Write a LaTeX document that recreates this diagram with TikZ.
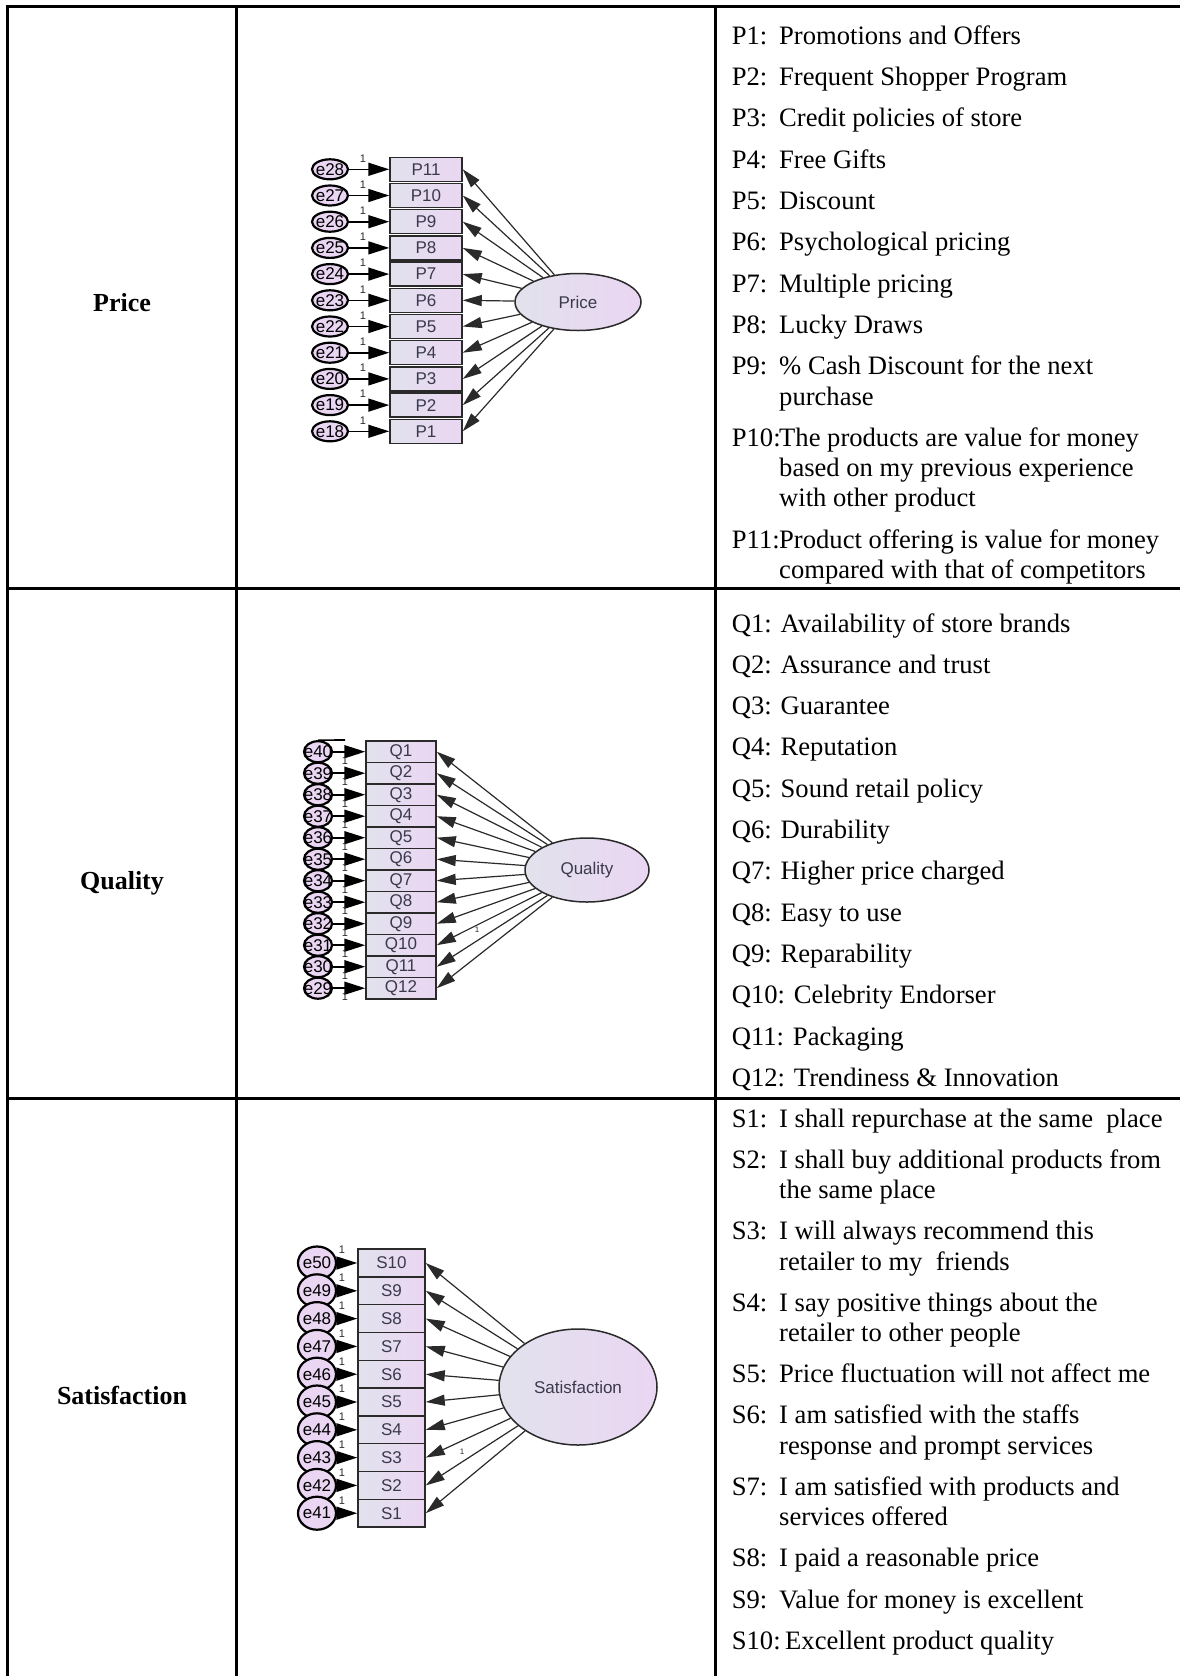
\documentclass[tikz,border=0pt]{standalone}
\usepackage{fontspec}
\setmainfont{Liberation Serif}
\newfontfamily\diagfont{Liberation Sans}
\usetikzlibrary{arrows.meta,shapes.geometric}
\definecolor{boxL}{HTML}{E2E2EC}
\definecolor{boxR}{HTML}{EAD6F3}
\definecolor{inkgray}{HTML}{2A2A2A}
\definecolor{boxtxt}{HTML}{3A3A4C}
\tikzset{
  rule/.style={line width=3pt, black},
  itemlbl/.style={anchor=base west, inner sep=0pt, font=\fontsize{26.6}{30}\selectfont},
  rowlbl/.style={inner sep=0pt, font=\fontsize{26}{30}\selectfont\bfseries},
  obsbox/.style={draw=inkgray, line width=1.5pt, rectangle, inner sep=0pt,
    left color=boxL, right color=boxR, text=boxtxt,
    font=\diagfont\fontsize{17}{17}\selectfont},
  errc/.style={draw=black, line width=2.2pt, ellipse, inner sep=0pt, fill=boxR},
  errtxt/.style={inner sep=0pt, text=black, font=\diagfont\fontsize{17}{17}\selectfont},
  latent/.style={draw=inkgray, line width=1.5pt, ellipse, inner sep=0pt,
    left color=boxL, right color=boxR, text=boxtxt,
    font=\diagfont\fontsize{17}{17}\selectfont},
  errarrow/.style={-{Triangle[length=21pt,width=13pt]}, line width=1.6pt, black},
  loadarrow/.style={-{Triangle[length=19pt,width=11pt]}, line width=1.2pt, inkgray},
  onelbl/.style={inner sep=0pt, text=inkgray, font=\diagfont\fontsize{11}{11}\selectfont},
}
\begin{document}
\begin{tikzpicture}[x=1pt,y=-1pt]
\useasboundingbox (0,0) rectangle (1180,1676);

% ---------- table rules ----------
\draw[rule] (7,1676) -- (7,6) -- (1180,6);
\draw[rule] (236,6) -- (236,1676);
\draw[rule] (715,6) -- (715,1676);
\draw[rule] (7,588) -- (1180,588);
\draw[rule] (7,1098) -- (1180,1098);

% ---------- row headings ----------
\node[rowlbl] (hPrice) at (122,303) {Price};
\node[rowlbl] (hQuality) at (122,883) {Quality};
\node[rowlbl] (hSat) at (122,1395) {Satisfaction};

% ---------- Price model ----------
\node[latent, minimum width=126pt, minimum height=57pt] (Price) at (578,302) {Price};
\foreach \n [count=\k from 0] in {11,10,...,1} {
  \pgfmathsetmacro\yy{169.3+26.2*\k}
  \pgfmathtruncatemacro\ee{\n+17}
  \node[obsbox, minimum width=72pt, minimum height=24pt] (P\n) at (426,\yy) {P\n};
  \node[errc, minimum width=36pt, minimum height=20pt] (eP\n) at (330,\yy) {};
  \node[errtxt] (tP\n) at (eP\n) {e\ee};
  \draw[errarrow] (eP\n) -- (P\n);
  \node[onelbl] (oP\n) at (363,\yy-11) {1};
  \draw[loadarrow] (Price) -- (P\n.east);
}

% ---------- Quality model ----------
\node[latent, minimum width=124pt, minimum height=64pt] (Quality) at (587,870) {Quality};
\foreach \n [count=\k from 0] in {1,2,...,12} {
  \pgfmathsetmacro\yy{751.7+21.5*\k}
  \pgfmathtruncatemacro\ee{41-\n}
  \node[obsbox, minimum width=70pt, minimum height=21.5pt] (Q\n) at (401,\yy) {Q\n};
  \node[errc, minimum width=28pt, minimum height=21pt] (eQ\n) at (318,\yy) {};
  \node[errtxt] (tQ\n) at (eQ\n) {e\ee};
  \draw[errarrow] (eQ\n) -- (Q\n);
  \node[onelbl] (oQ\n) at (345,\yy+9) {1};
  \draw[loadarrow] (Quality) -- (Q\n.east);
}
\coordinate (topstub) at (345,740);
\draw[line width=1.6pt, black] (eQ1.north) -- (topstub);
\node[onelbl, font=\diagfont\fontsize{8}{8}\selectfont] (oQx) at (477,930) {1};

% ---------- Satisfaction model ----------
\node[latent, minimum width=158pt, minimum height=116pt] (Sat) at (578,1387) {Satisfaction};
\foreach \n [count=\k from 0] in {10,9,...,1} {
  \pgfmathsetmacro\yy{1263+27.8*\k}
  \pgfmathtruncatemacro\ee{\n+40}
  \node[obsbox, minimum width=67pt, minimum height=27.8pt] (S\n) at (391.5,\yy) {S\n};
  \node[errc, minimum width=38pt, minimum height=33pt] (eS\n) at (317,\yy) {};
  \node[errtxt] (tS\n) at (eS\n) {e\ee};
  \draw[errarrow] (eS\n) -- (S\n);
  \node[onelbl] (oS\n) at (342,\yy-13) {1};
  \draw[loadarrow] (Sat) -- (S\n.east);
}
\node[onelbl, font=\diagfont\fontsize{8}{8}\selectfont] (oSx) at (462,1452) {1};

% ---------- Price items ----------
\node[itemlbl] (p1a) at (731.7,44.3) {P1:};
\node[itemlbl] (p1b) at (779,44.3) {Promotions and Offers};
\node[itemlbl] (p2a) at (731.7,85.6) {P2:};
\node[itemlbl] (p2b) at (779,85.6) {Frequent Shopper Program};
\node[itemlbl] (p3a) at (731.7,126.9) {P3:};
\node[itemlbl] (p3b) at (779,126.9) {Credit policies of store};
\node[itemlbl] (p4a) at (731.7,168.2) {P4:};
\node[itemlbl] (p4b) at (779,168.2) {Free Gifts};
\node[itemlbl] (p5a) at (731.7,209.5) {P5:};
\node[itemlbl] (p5b) at (779,209.5) {Discount};
\node[itemlbl] (p6a) at (731.7,250.8) {P6:};
\node[itemlbl] (p6b) at (779,250.8) {Psychological pricing};
\node[itemlbl] (p7a) at (731.7,292.1) {P7:};
\node[itemlbl] (p7b) at (779,292.1) {Multiple pricing};
\node[itemlbl] (p8a) at (731.7,333.4) {P8:};
\node[itemlbl] (p8b) at (779,333.4) {Lucky Draws};
\node[itemlbl] (p9a) at (731.7,374.7) {P9:};
\node[itemlbl] (p9b) at (779,374.7) {\% Cash Discount for the next};
\node[itemlbl] (p9c) at (779,405.0) {purchase};
\node[itemlbl] (p10a) at (731.7,446.3) {P10:};
\node[itemlbl] (p10b) at (779,446.3) {The products are value for money};
\node[itemlbl] (p10c) at (779,476.6) {based on my previous experience};
\node[itemlbl] (p10d) at (779,506.9) {with other product};
\node[itemlbl] (p11a) at (731.7,548.2) {P11:};
\node[itemlbl] (p11b) at (779,548.2) {Product offering is value for money};
\node[itemlbl] (p11c) at (779,578.5) {compared with that of competitors};

% ---------- Quality items ----------
\node[itemlbl] (q1) at (731.7,632) {Q1: Availability of store brands};
\node[itemlbl] (q2) at (731.7,673.3) {Q2: Assurance and trust};
\node[itemlbl] (q3) at (731.7,714.6) {Q3: Guarantee};
\node[itemlbl] (q4) at (731.7,755.9) {Q4: Reputation};
\node[itemlbl] (q5) at (731.7,797.2) {Q5: Sound retail policy};
\node[itemlbl] (q6) at (731.7,838.5) {Q6: Durability};
\node[itemlbl] (q7) at (731.7,879.8) {Q7: Higher price charged};
\node[itemlbl] (q8) at (731.7,921.1) {Q8: Easy to use};
\node[itemlbl] (q9) at (731.7,962.4) {Q9: Reparability};
\node[itemlbl] (q10) at (731.7,1003.7) {Q10: Celebrity Endorser};
\node[itemlbl] (q11) at (731.7,1045) {Q11: Packaging};
\node[itemlbl] (q12) at (731.7,1086.3) {Q12: Trendiness \& Innovation};

% ---------- Satisfaction items ----------
\node[itemlbl] (s1a) at (731.7,1127) {S1:};
\node[itemlbl] (s1b) at (779,1127) {I shall repurchase at the same\ \ place};
\node[itemlbl] (s2a) at (731.7,1168.2) {S2:};
\node[itemlbl] (s2b) at (779,1168.2) {I shall buy additional products from};
\node[itemlbl] (s2c) at (779,1198.5) {the same place};
\node[itemlbl] (s3a) at (731.7,1239.7) {S3:};
\node[itemlbl] (s3b) at (779,1239.7) {I will always recommend this};
\node[itemlbl] (s3c) at (779,1270) {retailer to my\ \ friends};
\node[itemlbl] (s4a) at (731.7,1311.2) {S4:};
\node[itemlbl] (s4b) at (779,1311.2) {I say positive things about the};
\node[itemlbl] (s4c) at (779,1341.5) {retailer to other people};
\node[itemlbl] (s5a) at (731.7,1382.7) {S5:};
\node[itemlbl] (s5b) at (779,1382.7) {Price fluctuation will not affect me};
\node[itemlbl] (s6a) at (731.7,1423.9) {S6:};
\node[itemlbl] (s6b) at (779,1423.9) {I am satisfied with the staffs};
\node[itemlbl] (s6c) at (779,1454.2) {response and prompt services};
\node[itemlbl] (s7a) at (731.7,1495.4) {S7:};
\node[itemlbl] (s7b) at (779,1495.4) {I am satisfied with products and};
\node[itemlbl] (s7c) at (779,1525.7) {services offered};
\node[itemlbl] (s8a) at (731.7,1566.9) {S8:};
\node[itemlbl] (s8b) at (779,1566.9) {I paid a reasonable price};
\node[itemlbl] (s9a) at (731.7,1608.1) {S9:};
\node[itemlbl] (s9b) at (779,1608.1) {Value for money is excellent};
\node[itemlbl] (s10a) at (731.7,1649.3) {S10:};
\node[itemlbl] (s10b) at (785,1649.3) {Excellent product quality};
\end{tikzpicture}
\end{document}
